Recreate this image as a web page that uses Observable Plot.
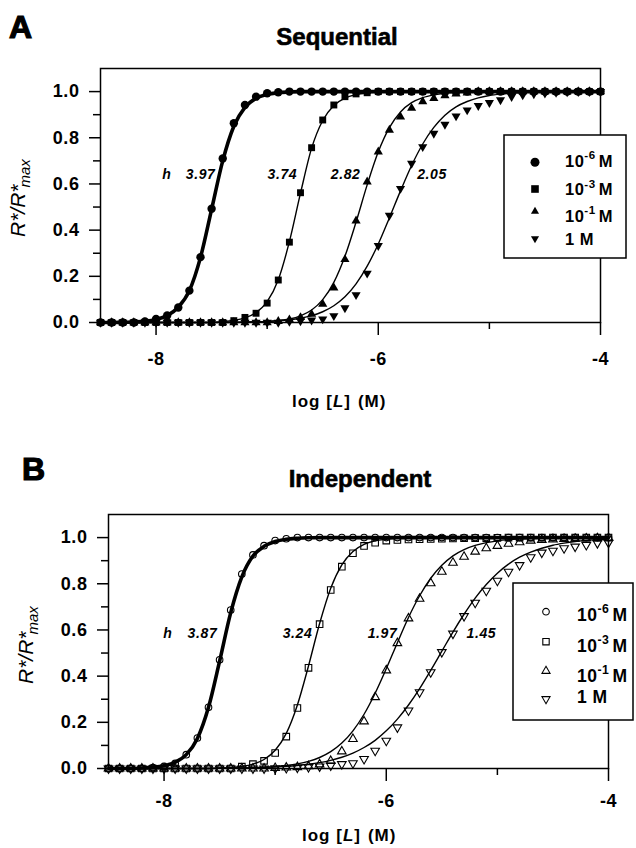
<!DOCTYPE html>
<html>
<head>
<meta charset="utf-8">
<script src="https://cdn.jsdelivr.net/npm/d3@7"></script>
<script src="https://cdn.jsdelivr.net/npm/@observablehq/plot@0.6"></script>
<style>
  body { margin: 0; background: #fff; }
  #wrap { position: relative; width: 636px; height: 848px; overflow: hidden; }
  .panel { position: absolute; left: 0; }
  #overlay { position: absolute; left: 0; top: 0; pointer-events: none; }
</style>
</head>
<body>
<div id="wrap"></div>
<script>
// ---------- data ----------
const logL = [-8.5,-8.4,-8.3,-8.2,-8.1,-8.0,-7.9,-7.8,-7.7,-7.6,-7.5,-7.4,-7.3,-7.2,-7.1,-7.0,-6.9,-6.8,-6.7,-6.6,-6.5,-6.4,-6.3,-6.2,-6.1,-6.0,-5.9,-5.8,-5.7,-5.6,-5.5,-5.4,-5.3,-5.2,-5.1,-5.0,-4.9,-4.8,-4.7,-4.6,-4.5,-4.4,-4.3,-4.2,-4.1,-4.0];

const concNames = ["10^-6 M", "10^-3 M", "10^-1 M", "1 M"];
const concExp = ["-6", "-3", "-1", null];

// Sequential: measured points
const seqPts6 = [0,0,0,0,0.005,0.015,0.03,0.065,0.138,0.283,0.493,0.71,0.863,0.942,0.978,0.993,0.997,1,1,1,1,1,1,1,1,1,1,1,1,1,1,1,1,1,1,1,1,1,1,1,1,1,1,1,1,1];
const seqPts3 = [0,0,0,0,0,0,0,0,0,0,0,0,0.008,0.022,0.04,0.084,0.184,0.348,0.562,0.757,0.877,0.942,0.978,0.99,0.995,1,1,1,1,1,1,1,1,1,1,1,1,1,1,1,1,1,1,1,1,1];
const seqPts1 = [0,0,0,0,0,0,0,0,0,0,0,0,0,0,0,0,0.005,0.012,0.022,0.036,0.08,0.15,0.273,0.44,0.609,0.739,0.833,0.891,0.928,0.957,0.971,0.983,0.99,0.995,1,1,1,1,1,1,1,1,1,1,1,1];
const seqPts0 = [0,0,0,0,0,0,0,0,0,0,0,0,0,0,0,0,0,0.004,0.007,0.01,0.015,0.029,0.063,0.12,0.213,0.333,0.464,0.58,0.689,0.761,0.819,0.858,0.894,0.92,0.939,0.952,0.964,0.978,0.985,0.99,0.993,0.996,0.998,1,1,1];
// Sequential: fitted curves
const seqFit6 = [0,0,0.001,0.002,0.005,0.013,0.03,0.066,0.138,0.282,0.49,0.70,0.85,0.932,0.971,0.988,0.995,0.998,1,1,1,1,1,1,1,1,1,1,1,1,1,1,1,1,1,1,1,1,1,1,1,1,1,1,1,1];
const seqFit3 = [0,0,0,0,0,0,0,0,0,0,0,0.004,0.009,0.02,0.043,0.09,0.185,0.35,0.56,0.755,0.875,0.94,0.972,0.987,0.994,0.997,0.999,1,1,1,1,1,1,1,1,1,1,1,1,1,1,1,1,1,1,1];
const seqFit1 = [0,0,0,0,0,0,0,0,0,0,0,0,0,0.001,0.002,0.004,0.008,0.015,0.029,0.054,0.099,0.174,0.287,0.435,0.596,0.739,0.844,0.912,0.952,0.974,0.986,0.993,0.996,0.998,0.999,1,1,1,1,1,1,1,1,1,1,1];
const seqFit0 = [0,0,0,0,0,0,0,0,0,0,0.0005,0.001,0.0015,0.002,0.003,0.0046,0.0073,0.0117,0.0186,0.0295,0.0465,0.0725,0.111,0.167,0.244,0.34,0.453,0.57,0.68,0.773,0.845,0.898,0.934,0.957,0.973,0.983,0.989,0.993,0.996,0.997,0.998,0.999,0.999,1,1,1];

// Independent: measured points
const indPts6 = [0,0,0,0,0.004,0.009,0.022,0.06,0.132,0.265,0.471,0.686,0.842,0.925,0.965,0.987,0.995,1,1,1,1,1,1,1,1,1,1,1,1,1,1,1,1,1,1,1,1,1,1,1,1,1,1,1,1,1];
const indPts3 = [0,0,0,0,0,0,0,0,0,0,0,0,0.008,0.019,0.033,0.067,0.138,0.262,0.436,0.625,0.773,0.874,0.932,0.964,0.978,0.987,0.99,0.992,0.993,0.994,0.995,0.996,0.997,0.998,0.998,0.999,1,1,1,1,1,1,1,1,1,1];
const indPts1 = [0,0,0,0,0,0,0,0,0,0,0,0,0,0,0,0.002,0.004,0.006,0.01,0.018,0.033,0.074,0.128,0.204,0.309,0.425,0.543,0.65,0.735,0.802,0.852,0.891,0.917,0.939,0.954,0.964,0.973,0.98,0.987,0.99,0.992,0.994,0.995,0.996,0.997,0.998];
const indPts0 = [0,0,0,0,0,0,0,0,0,0,0,0,0,0,0,0.001,0.002,0.004,0.006,0.009,0.013,0.019,0.023,0.041,0.077,0.12,0.178,0.251,0.33,0.417,0.504,0.584,0.66,0.718,0.77,0.813,0.852,0.881,0.915,0.935,0.943,0.954,0.961,0.968,0.976,0.978];
// Independent: fitted curves
const indFit6 = [0,0,0,0.002,0.005,0.012,0.027,0.06,0.13,0.265,0.465,0.675,0.83,0.92,0.962,0.983,0.993,0.997,0.999,1,1,1,1,1,1,1,1,1,1,1,1,1,1,1,1,1,1,1,1,1,1,1,1,1,1,1];
const indFit3 = [0,0,0,0,0,0,0,0,0,0,0.002,0.004,0.009,0.019,0.039,0.079,0.152,0.275,0.444,0.628,0.781,0.882,0.94,0.971,0.986,0.993,0.997,0.998,0.999,1,1,1,1,1,1,1,1,1,1,1,1,1,1,1,1,1];
const indFit1 = [0,0,0,0,0,0,0,0,0,0,0.0008,0.0013,0.002,0.0033,0.0052,0.008,0.0127,0.0198,0.0309,0.0477,0.073,0.11,0.163,0.235,0.326,0.432,0.545,0.654,0.748,0.824,0.88,0.921,0.948,0.966,0.978,0.986,0.991,0.994,0.996,0.997,0.998,0.999,0.999,1,1,1];
const indFit0 = [0,0,0,0,0,0,0,0,0,0,0.0013,0.0018,0.0025,0.0035,0.0049,0.0068,0.0095,0.0133,0.0185,0.0256,0.0354,0.0487,0.0667,0.0909,0.122,0.163,0.214,0.275,0.346,0.425,0.508,0.591,0.668,0.738,0.797,0.846,0.885,0.915,0.937,0.954,0.967,0.976,0.983,0.988,0.991,0.994];

// Hill coefficients
const hillSeq = ["3.97", "3.74", "2.82", "2.05"];
const hillInd = ["3.87", "3.24", "1.97", "1.45"];

// ticks
const yMajor = [0, 0.2, 0.4, 0.6, 0.8, 1.0];
const yMinor = [0.1, 0.3, 0.5, 0.7, 0.9];
const xMajor = [-8, -6, -4];
const xMinor = [-7, -5];

// ---------- layout / style ----------
const FONT = "'Liberation Sans', Arial, Helvetica, sans-serif";
const downTri = {
  draw(ctx, size) {
    const y = -Math.sqrt(size / (3 * Math.sqrt(3)));
    ctx.moveTo(0, -2 * y);
    ctx.lineTo(-Math.sqrt(3) * y, y);
    ctx.lineTo(Math.sqrt(3) * y, y);
    ctx.closePath();
  }
};
const symbols = ["circle", "square", "triangle", downTri];

const rows = (arr) => logL.map((x, i) => ({x, y: arr[i]}));

function makePanel(p) {
  const marks = [
    Plot.axisY(yMajor, {tickSize: 11, tickPadding: 10, tickFormat: d => d.toFixed(1), label: null, strokeWidth: 1.5, fontSize: 18, fontWeight: "bold"}),
    Plot.axisY(yMinor, {tickSize: 7, tickFormat: () => "", label: null, strokeWidth: 1.5}),
    Plot.axisX(xMajor, {tickSize: 13, tickPadding: p.xPad, tickFormat: d => String(d), label: null, strokeWidth: 1.5, fontSize: 18, fontWeight: "bold"}),
    Plot.axisX(xMinor, {tickSize: 7, tickFormat: () => "", label: null, strokeWidth: 1.5})
  ];
  p.fits.forEach((f, i) => {
    marks.push(Plot.line(rows(f), {x: "x", y: "y", stroke: "black", strokeWidth: i === 0 ? 3.6 : 1.4, curve: "monotone-x"}));
  });
  [3, 2, 1, 0].forEach(i => {
    marks.push(Plot.dot(rows(p.pts[i]), {
      x: "x", y: "y", symbol: symbols[i], r: p.r[i],
      fill: p.filled ? "black" : "none",
      stroke: p.filled ? "none" : "black",
      strokeWidth: 1.1
    }));
  });
  marks.push(Plot.frame({stroke: "black", strokeWidth: 1.5}));
  // hill labels
  marks.push(Plot.text([{x: p.hX, y: p.labY, t: "h"}], {x: "x", y: "y", text: "t", textAnchor: "start", fontStyle: "italic", fontWeight: "bold", fontSize: 14}));
  p.labels.forEach((t, i) => {
    marks.push(Plot.text([{x: p.labX[i], y: p.labY, t}], {x: "x", y: "y", text: "t", textAnchor: p.labAnchor[i], fontStyle: "italic", fontWeight: "bold", fontSize: 14}));
  });
  return Plot.plot({
    width: 636, height: 424,
    marginLeft: p.ml, marginRight: p.mr, marginTop: p.mt, marginBottom: p.mb,
    x: {domain: [-8.5, -4]},
    y: {domain: [0, 1.1]},
    style: {fontFamily: FONT, fontSize: "18px", fontWeight: "bold", color: "black", background: "transparent", overflow: "visible", letterSpacing: "0.6px"},
    marks
  });
}

const panelA = makePanel({
  ml: 100, mr: 36, mt: 68, mb: 102, xPad: 17,
  pts: [seqPts6, seqPts3, seqPts1, seqPts0],
  fits: [seqFit6, seqFit3, seqFit1, seqFit0],
  filled: true, r: [4.2, 3.9, 3.4, 3.4],
  labels: hillSeq, labX: [-7.465, -6.73, -6.16, -5.65], labAnchor: ["end", "end", "end", "start"], hX: -7.945, labY: 0.64
});
const panelB = makePanel({
  ml: 108, mr: 28, mt: 90, mb: 80, xPad: 13,
  pts: [indPts6, indPts3, indPts1, indPts0],
  fits: [indFit6, indFit3, indFit1, indFit0],
  filled: false, r: [3.3, 3.7, 3.2, 3.2],
  labels: hillInd, labX: [-7.521, -6.665, -5.90, -5.278], labAnchor: ["end", "end", "end", "start"], hX: -8.007, labY: 0.584
});

const wrap = document.getElementById("wrap");
const dA = document.createElement("div"); dA.className = "panel"; dA.style.top = "0px"; dA.appendChild(panelA); wrap.appendChild(dA);
const dB = document.createElement("div"); dB.className = "panel"; dB.style.top = "424px"; dB.appendChild(panelB); wrap.appendChild(dB);

// ---------- overlay: letters, titles, axis labels, legends ----------
const ov = d3.select(wrap).append("svg").attr("id", "overlay").attr("width", 636).attr("height", 848)
  .attr("font-family", FONT);

function bigText(x, y, txt, size, anchor) {
  ov.append("text").attr("x", x).attr("y", y).attr("font-size", size).attr("font-weight", "bold")
    .attr("text-anchor", anchor).attr("stroke", "black").attr("stroke-width", size > 28 ? 1.2 : 0.6)
    .attr("fill", "black").text(txt);
}
bigText(9, 38, "A", 32, "start");
bigText(337, 45, "Sequential", 24, "middle");
bigText(22, 480, "B", 32, "start");
bigText(360, 487, "Independent", 24, "middle");

function xLabel(x, y) {
  const t = ov.append("text").attr("x", x).attr("y", y).attr("font-size", 17).attr("font-weight", "bold")
    .attr("letter-spacing", "1px").attr("fill", "black");
  t.append("tspan").text("log [");
  t.append("tspan").attr("font-style", "italic").text("L");
  t.append("tspan").text("]");
  t.append("tspan").attr("dx", 7).text("(M)");
}
xLabel(292, 407);
xLabel(302, 841);

function yLabel(x, y) {
  const t = ov.append("text").attr("transform", `translate(${x},${y}) rotate(-90)`)
    .attr("font-size", 21).attr("font-style", "italic").attr("fill", "black");
  t.append("tspan").text("R*/R*");
  t.append("tspan").attr("font-size", 15).attr("dx", -3).attr("dy", 5).text("max");
}
yLabel(25, 237);
yLabel(33, 684);

function legend(cfg) {
  ov.append("rect").attr("x", cfg.x).attr("y", cfg.y).attr("width", cfg.w).attr("height", cfg.h)
    .attr("fill", "white").attr("stroke", "black").attr("stroke-width", 1.5);
  concNames.forEach((name, i) => {
    const sym = d3.symbol().type(i === 0 ? d3.symbolCircle : i === 1 ? d3.symbolSquare : i === 2 ? d3.symbolTriangle : downTri)
      .size(Math.PI * cfg.r[i] * cfg.r[i]);
    ov.append("path").attr("d", sym()).attr("transform", `translate(${cfg.mx},${cfg.my[i]})`)
      .attr("fill", cfg.filled ? "black" : "none").attr("stroke", cfg.filled ? "none" : "black").attr("stroke-width", 1.1);
    const t = ov.append("text").attr("x", cfg.tx).attr("y", cfg.ty[i]).attr("font-size", cfg.fs)
      .attr("font-weight", "bold").attr("letter-spacing", "0.5px").attr("fill", "black");
    if (concExp[i]) {
      t.append("tspan").text("10");
      t.append("tspan").attr("font-size", cfg.fs * 0.7).attr("dy", -cfg.fs * 0.45).text(concExp[i]);
      t.append("tspan").attr("dy", cfg.fs * 0.45).attr("dx", 3).text("M");
    } else {
      t.text("1 M");
    }
  });
}
legend({x: 504, y: 135, w: 122, h: 123, mx: 535, my: [162.3, 189, 211.5, 238.5], tx: 565, ty: [166.7, 195, 221.7, 245], fs: 16.5, filled: true, r: [4.5, 4.3, 3.0, 3.0]});
legend({x: 513, y: 583, w: 120, h: 137, mx: 546, my: [611.7, 641.7, 671, 699], tx: 577, ty: [620.7, 651.7, 681.7, 703.3], fs: 17.5, filled: false, r: [3.3, 3.6, 3.0, 3.0]});
</script>
</body>
</html>
